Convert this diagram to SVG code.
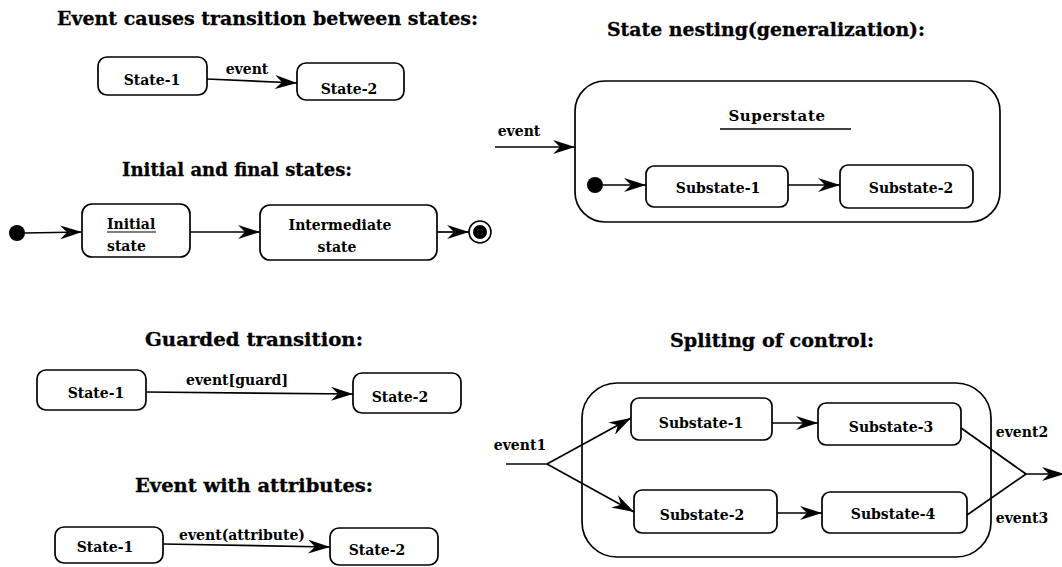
<svg xmlns="http://www.w3.org/2000/svg" width="1062" height="567" viewBox="0 0 1062 567">
  <style>
    .title { font-family: "DejaVu Serif", "Liberation Serif", serif; font-weight: bold; font-size: 18px; fill: #000; stroke: #000; stroke-width: 0.3; }
    .lbl { font-family: "DejaVu Serif", "Liberation Serif", serif; font-weight: bold; font-size: 14px; fill: #000; text-anchor: middle; }
    .state { fill: #fff; stroke: #000; stroke-width: 1.7; }
    .edge { fill: none; stroke: #000; stroke-width: 1.7; }
    .dot { fill: #000; }
  </style>
  <defs>
    <!-- filled, swept-back arrowhead used by every transition -->
    <marker id="arr" viewBox="0 0 22 14" refX="22" refY="7" markerWidth="22" markerHeight="14" markerUnits="userSpaceOnUse" orient="auto">
      <path d="M0,0 L22,7 L0,14 L7,7 Z" fill="#000"/>
    </marker>
  </defs>
  <rect width="1062" height="567" fill="#fff"/>

  <!-- section titles -->
  <g id="titles">
    <text class="title" x="57" y="25" textLength="421" lengthAdjust="spacingAndGlyphs">Event causes transition between states:</text>
    <text class="title" x="122" y="176" textLength="230" lengthAdjust="spacingAndGlyphs">Initial and final states:</text>
    <text class="title" x="607" y="36" textLength="318" lengthAdjust="spacingAndGlyphs">State nesting(generalization):</text>
    <text class="title" x="145" y="346" textLength="218" lengthAdjust="spacingAndGlyphs">Guarded transition:</text>
    <text class="title" x="135" y="492" textLength="238" lengthAdjust="spacingAndGlyphs">Event with attributes:</text>
    <text class="title" x="670" y="347" textLength="204" lengthAdjust="spacingAndGlyphs">Spliting of control:</text>
  </g>

  <!-- simple transition -->
  <g id="ev-state1">
    <rect class="state" x="98" y="57" width="109" height="38" rx="9"/>
    <text class="lbl" x="152" y="85">State-1</text>
  </g>
  <g id="ev-state2">
    <rect class="state" x="297" y="63" width="107" height="37" rx="9"/>
    <text class="lbl" x="349" y="94">State-2</text>
  </g>

  <!-- initial and final states -->
  <g id="if-start">
    <circle class="dot" cx="17" cy="233" r="8"/>
  </g>
  <g id="if-initial">
    <rect class="state" x="82" y="204" width="108" height="53" rx="10"/>
    <text class="lbl" x="107" y="229" style="text-anchor:start">Initial</text>
    <line x1="107" y1="232" x2="156" y2="232" stroke="#000" stroke-width="1.2"/>
    <text class="lbl" x="107" y="251" style="text-anchor:start">state</text>
  </g>
  <g id="if-intermediate">
    <rect class="state" x="260" y="205" width="177" height="55" rx="10"/>
    <text class="lbl" x="340" y="230">Intermediate</text>
    <text class="lbl" x="337" y="252">state</text>
  </g>
  <g id="if-final">
    <circle cx="480" cy="232" r="11" fill="#fff" stroke="#000" stroke-width="1.6"/>
    <circle class="dot" cx="480" cy="232" r="7"/>
  </g>

  <!-- state nesting -->
  <g id="nest-superstate">
    <rect class="state" x="575" y="81" width="425" height="141" rx="30"/>
    <text class="lbl" x="777" y="121" style="font-size:15px;letter-spacing:0.6px">Superstate</text>
    <line x1="720" y1="129" x2="851" y2="129" stroke="#000" stroke-width="1.4"/>
  </g>
  <g id="nest-start">
    <circle class="dot" cx="595" cy="185" r="8"/>
  </g>
  <g id="nest-sub1">
    <rect class="state" x="646" y="166" width="142" height="41" rx="8"/>
    <text class="lbl" x="718" y="193">Substate-1</text>
  </g>
  <g id="nest-sub2">
    <rect class="state" x="840" y="165" width="133" height="43" rx="8"/>
    <text class="lbl" x="911" y="193">Substate-2</text>
  </g>

  <!-- guarded transition -->
  <g id="gd-state1">
    <rect class="state" x="37" y="370" width="109" height="40" rx="9"/>
    <text class="lbl" x="96" y="398">State-1</text>
  </g>
  <g id="gd-state2">
    <rect class="state" x="353" y="373" width="108" height="40" rx="9"/>
    <text class="lbl" x="400" y="402">State-2</text>
  </g>

  <!-- event with attributes -->
  <g id="at-state1">
    <rect class="state" x="55" y="527" width="108" height="36" rx="9"/>
    <text class="lbl" x="105" y="552">State-1</text>
  </g>
  <g id="at-state2">
    <rect class="state" x="330" y="528" width="108" height="37" rx="9"/>
    <text class="lbl" x="377" y="555">State-2</text>
  </g>

  <!-- splitting of control -->
  <g id="sp-composite">
    <rect class="state" x="582" y="383" width="409" height="174" rx="35"/>
  </g>
  <g id="sp-sub1">
    <rect class="state" x="631" y="398" width="141" height="42" rx="8"/>
    <text class="lbl" x="701" y="428">Substate-1</text>
  </g>
  <g id="sp-sub3">
    <rect class="state" x="818" y="403" width="143" height="42" rx="8"/>
    <text class="lbl" x="891" y="432">Substate-3</text>
  </g>
  <g id="sp-sub2">
    <rect class="state" x="634" y="490" width="143" height="43" rx="8"/>
    <text class="lbl" x="702" y="520">Substate-2</text>
  </g>
  <g id="sp-sub4">
    <rect class="state" x="822" y="492" width="145" height="41" rx="8"/>
    <text class="lbl" x="893" y="519">Substate-4</text>
  </g>

  <!-- transitions -->
  <g id="connectors">
    <line class="edge" x1="207" y1="79" x2="297" y2="83" marker-end="url(#arr)"/>
    <text class="lbl" x="247" y="74">event</text>

    <line class="edge" x1="25" y1="233" x2="82" y2="232" marker-end="url(#arr)"/>
    <line class="edge" x1="190" y1="232" x2="260" y2="232" marker-end="url(#arr)"/>
    <line class="edge" x1="437" y1="232" x2="469" y2="232" marker-end="url(#arr)"/>

    <line class="edge" x1="495" y1="147" x2="575" y2="147" marker-end="url(#arr)"/>
    <text class="lbl" x="519" y="136">event</text>
    <line class="edge" x1="603" y1="185" x2="646" y2="185" marker-end="url(#arr)"/>
    <line class="edge" x1="788" y1="185" x2="840" y2="185" marker-end="url(#arr)"/>

    <line class="edge" x1="146" y1="392" x2="353" y2="394" marker-end="url(#arr)"/>
    <text class="lbl" x="237" y="385">event[guard]</text>

    <line class="edge" x1="163" y1="544" x2="330" y2="547" marker-end="url(#arr)"/>
    <text class="lbl" x="242" y="540">event(attribute)</text>

    <line class="edge" x1="506" y1="464" x2="547" y2="464"/>
    <line class="edge" x1="547" y1="464" x2="631" y2="418" marker-end="url(#arr)"/>
    <line class="edge" x1="547" y1="464" x2="634" y2="512" marker-end="url(#arr)"/>
    <text class="lbl" x="520" y="450">event1</text>
    <line class="edge" x1="772" y1="423" x2="818" y2="423" marker-end="url(#arr)"/>
    <line class="edge" x1="777" y1="513" x2="822" y2="513" marker-end="url(#arr)"/>
    <line class="edge" x1="961" y1="428" x2="1026" y2="474"/>
    <line class="edge" x1="967" y1="515" x2="1026" y2="474"/>
    <line class="edge" x1="1026" y1="474" x2="1064" y2="474" marker-end="url(#arr)"/>
    <text class="lbl" x="1022" y="437">event2</text>
    <text class="lbl" x="1022" y="523">event3</text>
  </g>
</svg>
